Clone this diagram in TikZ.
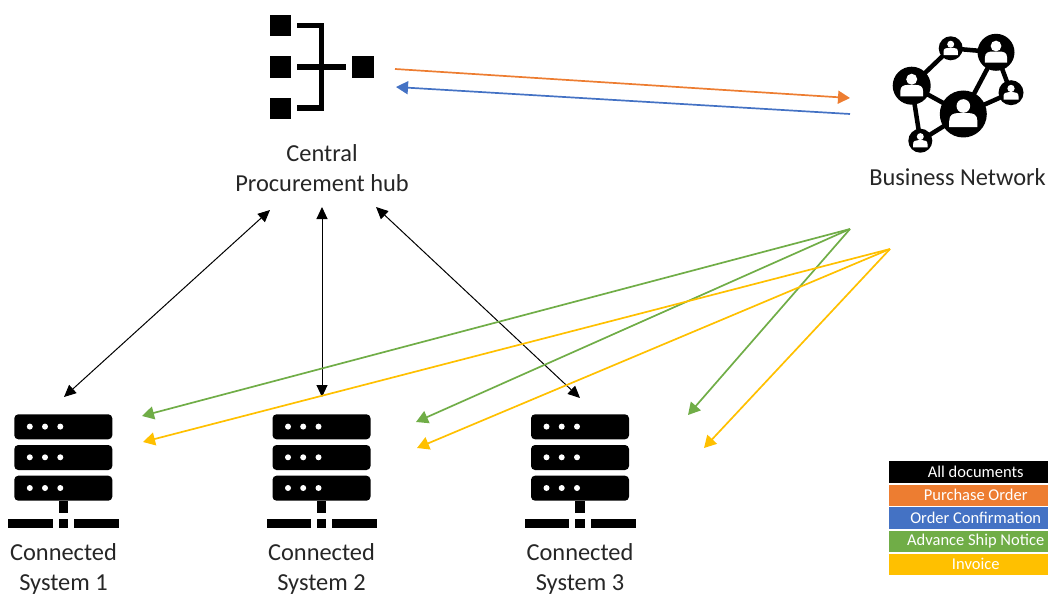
\documentclass[tikz,border=0pt]{standalone}
\usepackage{fontspec}
\setmainfont{Carlito}
\usetikzlibrary{arrows.meta}
\definecolor{cOrange}{HTML}{ED7D31}
\definecolor{cBlue}{HTML}{4472C4}
\definecolor{cGreen}{HTML}{70AD47}
\definecolor{cGold}{HTML}{FFC000}
\tikzset{
  label text/.style={font=\fontsize{24.4}{30}\selectfont,align=center,text=black!85,inner sep=0pt},
  legend row/.style={minimum width=173pt,anchor=north west,inner sep=0pt,text=white,font=\fontsize{16.5}{18}\selectfont},
  black link/.style={draw=black,line width=1pt,{Triangle[length=12pt,width=11pt]}-{Triangle[length=12pt,width=11pt]}},
  doc link/.style={line width=1.7pt,-{Triangle[length=12pt,width=13pt]}},
  icon line/.style={draw=black,line width=5.5pt},
  net line/.style={draw=black,line width=4.5pt},
}
\newcommand{\lowered}[1]{\raisebox{-1pt}{#1}}
\newcommand{\hubsquare}[2]{\fill[black] (#1,#2) rectangle ++(21.5,21.5);}
\newcommand{\persona}[3]{%
  \fill[black] (#1,#2) circle[radius=#3];
  \begin{scope}[shift={(#1,#2)},x=#3pt,y=-#3pt]
    \fill[white] (0,-0.34) circle[radius=0.29];
    \fill[white] (-0.6,0.56) -- (-0.6,0.3) .. controls (-0.6,0.02) and (-0.42,-0.04) .. (-0.2,-0.04)
      -- (0.2,-0.04) .. controls (0.42,-0.04) and (0.6,0.02) .. (0.6,0.3) -- (0.6,0.56) -- cycle;
  \end{scope}
}
\newcommand{\serverrow}[2]{%
  \fill[black,rounded corners=4pt] (#1-49,#2) rectangle (#1+49,#2+25);
  \foreach \d in {-33.5,-18.3,-3} \fill[white] (#1+\d,#2+12.3) circle[radius=3];
}
\newcommand{\server}[1]{%
  \serverrow{#1}{414.3}
  \serverrow{#1}{445}
  \serverrow{#1}{475.7}
  \fill[black] (#1-4.7,500.7) rectangle (#1+4.7,512.7);
  \fill[black] (#1-55,519) rectangle (#1-10.6,528.3);
  \fill[black] (#1-4.7,519) rectangle (#1+4.7,528.3);
  \fill[black] (#1+10.7,519) rectangle (#1+55.7,528.3);
}
\begin{document}
\begin{tikzpicture}[x=1pt,y=-1pt]
\useasboundingbox (0,0) rectangle (1048,596);
% hub icon
\hubsquare{269.5}{15}
\hubsquare{269.5}{56.5}
\hubsquare{269.5}{98}
\hubsquare{352}{56.5}
\draw[icon line] (297,25.7) -- (321.3,25.7) -- (321.3,108) -- (297,108);
\draw[icon line] (297,67) -- (346,67);
% network icon
\coordinate (na) at (996,52.3);
\coordinate (nb) at (950.7,48.3);
\coordinate (nc) at (911.7,85.7);
\coordinate (nd) at (963.3,114);
\coordinate (ne) at (1011,92.7);
\coordinate (nf) at (920.3,140.7);
\draw[net line] (nc) -- (nb) -- (na) -- (nd) -- (ne) -- (na);
\draw[net line] (nc) -- (nd) -- (nf) -- (nc);
\persona{996}{52.3}{18.5}
\persona{950.7}{48.3}{12}
\persona{911.7}{85.7}{19}
\persona{963.3}{114}{23.5}
\persona{1011}{92.7}{12.5}
\persona{920.3}{140.7}{12}
% servers
\server{63.3}
\server{321.5}
\server{580}
% labels
\node[label text] (hub) at (322,168) {Central\\Procurement hub};
\node[label text] (net) at (957.5,177.5) {Business Network};
\node[label text] (s1) at (63.5,569) {Connected\\System 1};
\node[label text] (s2) at (321.5,569) {Connected\\System 2};
\node[label text] (s3) at (580,569) {Connected\\System 3};
% connector ends
\coordinate (hubA) at (270,210);
\coordinate (hubB) at (322,207);
\coordinate (hubC) at (376,207);
\coordinate (sysA) at (64,397);
\coordinate (sysB) at (322,397);
\coordinate (sysC) at (580,398);
\coordinate (poS) at (395,69);
\coordinate (poE) at (850,98);
\coordinate (ocS) at (850,114);
\coordinate (ocE) at (396,87);
\coordinate (gS) at (850,229);
\coordinate (g1) at (142,416);
\coordinate (g2) at (416,422);
\coordinate (g3) at (688,415);
\coordinate (yS) at (890,249);
\coordinate (y1) at (143,442);
\coordinate (y2) at (417,448);
\coordinate (y3) at (704,448);
\draw[black link] (hubA) -- (sysA);
\draw[black link] (hubB) -- (sysB);
\draw[black link] (hubC) -- (sysC);
\draw[doc link,draw=cOrange,fill=cOrange] (poS) -- (poE);
\draw[doc link,draw=cBlue,fill=cBlue] (ocS) -- (ocE);
\draw[doc link,draw=cGreen,fill=cGreen] (gS) -- (g1);
\draw[doc link,draw=cGreen,fill=cGreen] (gS) -- (g2);
\draw[doc link,draw=cGreen,fill=cGreen] (gS) -- (g3);
\draw[doc link,draw=cGold,fill=cGold] (yS) -- (y1);
\draw[doc link,draw=cGold,fill=cGold] (yS) -- (y2);
\draw[doc link,draw=cGold,fill=cGold] (yS) -- (y3);
% legend
\node[legend row,fill=black,minimum height=22.7pt] (l1) at (889,460.3) {\lowered{All documents}};
\node[legend row,fill=cOrange,minimum height=21.4pt] (l2) at (889,484.3) {\lowered{Purchase Order}};
\node[legend row,fill=cBlue,minimum height=22pt] (l3) at (889,507) {\lowered{Order Confirmation}};
\node[legend row,fill=cGreen,minimum height=21.7pt] (l4) at (889,530.3) {\lowered{Advance Ship Notice}};
\node[legend row,fill=cGold,minimum height=21pt] (l5) at (889,553.3) {\lowered{Invoice}};
\end{tikzpicture}
\end{document}
